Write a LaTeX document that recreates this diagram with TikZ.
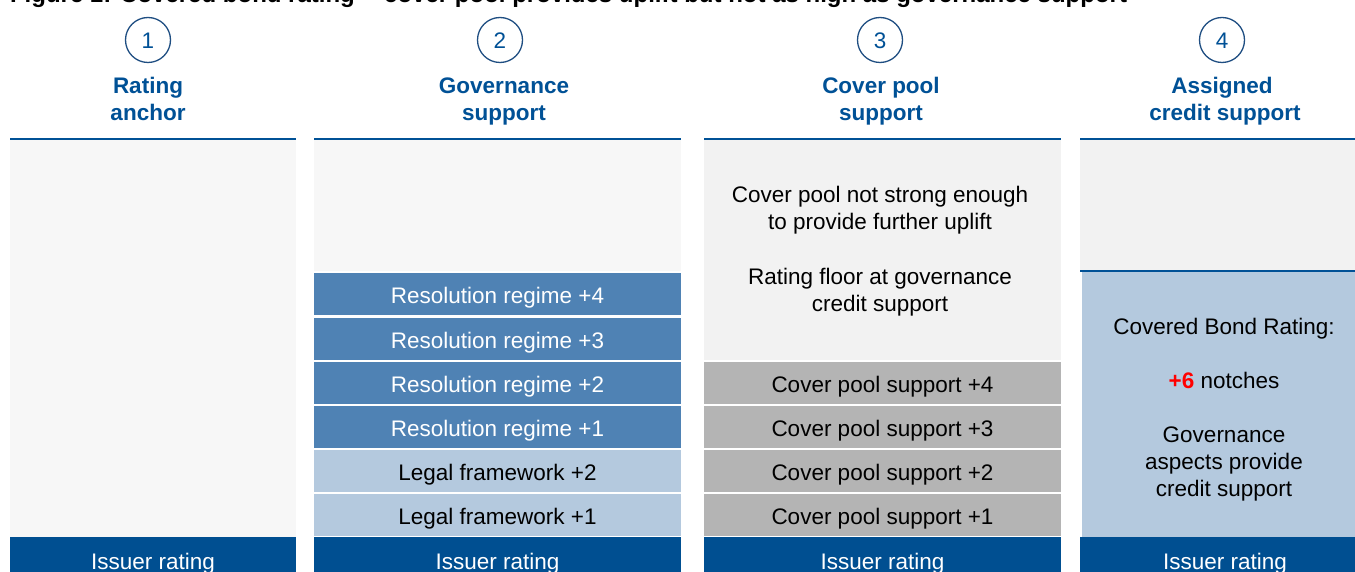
\documentclass[tikz,border=0pt]{standalone}
\usepackage{fontspec}
\newfontfamily\arialf{Liberation Sans}
\definecolor{hdblue}{RGB}{0,81,150}
\definecolor{issuerblue}{RGB}{0,79,145}
\definecolor{resblue}{RGB}{79,130,180}
\definecolor{lightblue}{RGB}{180,201,222}
\definecolor{poolgray}{RGB}{180,180,180}
\definecolor{bgA}{RGB}{247,247,247}
\definecolor{bgB}{RGB}{242,242,242}
\definecolor{circblue}{RGB}{31,78,130}
\begin{document}
\begin{tikzpicture}[x=1pt,y=-1pt,
  every node/.style={font=\arialf\fontsize{22.5}{27}\selectfont, inner sep=0pt, outer sep=0pt},
  boxs/.style={draw=none, text height=19.5pt, text depth=0pt, minimum height=42pt},
  resbox/.style={boxs, fill=resblue, text=white},
  legbox/.style={boxs, fill=lightblue, text=black},
  poolbox/.style={boxs, fill=poolgray, text=black},
  issbox/.style={boxs, fill=issuerblue, text=white, minimum height=48pt, text height=16.1pt},
  topline/.style={draw=hdblue, line width=2pt},
  circ/.style={circle, draw=circblue, line width=1.3pt, minimum size=45pt, text=hdblue, text height=16.1pt, text depth=0pt},
  head/.style={anchor=base, text=hdblue, font=\arialf\bfseries\fontsize{22.5}{27}\selectfont},
  txt/.style={anchor=base, text=black}
]
\useasboundingbox (0,0) rectangle (1355,572);
\clip (0,0) rectangle (1355,572);
\fill[white] (0,0) rectangle (1355,572);

% title (cut off at top)
\node[anchor=base west, font=\arialf\bfseries\fontsize{24}{28}\selectfont] (title) at (10,3) {Figure 1: Covered bond rating -- cover pool provides uplift but not as high as governance support};

% circles
\node[circ] (c1) at (148,40) {1};
\node[circ] (c2) at (500,40) {2};
\node[circ] (c3) at (880,40) {3};
\node[circ] (c4) at (1222,40) {4};

% headings
\node[head] (h1a) at (148,94) {Rating};
\node[head] (h1b) at (148,121) {anchor};
\node[head] (h2a) at (504,94) {Governance};
\node[head] (h2b) at (504,121) {support};
\node[head] (h3a) at (881,94) {Cover pool};
\node[head] (h3b) at (881,121) {support};
\node[head] (h4a) at (1222,94) {Assigned};
\node[head] (h4b) at (1225,121) {credit support};

% column 1
\fill[bgA] (10,140) rectangle (296,537);
\draw[topline] (10,139) -- (296,139);
\node[issbox, minimum width=286pt] (i1) at (153,561) {Issuer rating};

% column 2
\fill[bgA] (314,140) rectangle (681,271);
\draw[topline] (314,139) -- (681,139);
\node[resbox, minimum width=367pt] (r4) at (497.5,294) {Resolution regime +4};
\node[resbox, minimum width=367pt] (r3) at (497.5,338.5) {Resolution regime +3};
\node[resbox, minimum width=367pt] (r2) at (497.5,383) {Resolution regime +2};
\node[resbox, minimum width=367pt] (r1) at (497.5,427) {Resolution regime +1};
\node[legbox, minimum width=367pt] (l2) at (497.5,471) {Legal framework +2};
\node[legbox, minimum width=367pt] (l1) at (497.5,515) {Legal framework +1};
\node[issbox, minimum width=367pt] (i2) at (497.5,561) {Issuer rating};

% column 3
\fill[bgB] (704,140) rectangle (1061,360);
\draw[topline] (704,139) -- (1061,139);
\node[txt] (t3a) at (880,203) {Cover pool not strong enough};
\node[txt] (t3b) at (880,230) {to provide further uplift};
\node[txt] (t3c) at (880,284) {Rating floor at governance};
\node[txt] (t3d) at (880,311) {credit support};
\node[poolbox, minimum width=357pt] (p4) at (882.5,383) {Cover pool support +4};
\node[poolbox, minimum width=357pt] (p3) at (882.5,427) {Cover pool support +3};
\node[poolbox, minimum width=357pt] (p2) at (882.5,471) {Cover pool support +2};
\node[poolbox, minimum width=357pt] (p1) at (882.5,515) {Cover pool support +1};
\node[issbox, minimum width=357pt] (i3) at (882.5,561) {Issuer rating};

% column 4
\fill[bgB] (1080,140) rectangle (1370,271);
\fill[lightblue] (1082,272) rectangle (1370,537);
\draw[topline] (1080,139) -- (1370,139);
\draw[topline] (1080,271) -- (1370,271);
\node[txt] (t4a) at (1224,334) {Covered Bond Rating:};
\node[txt] (t4b) at (1224,388) {\textcolor{red}{\bfseries +6} notches};
\node[txt] (t4c) at (1224,442) {Governance};
\node[txt] (t4d) at (1224,469) {aspects provide};
\node[txt] (t4e) at (1224,496) {credit support};
\node[issbox, minimum width=290pt] (i4) at (1225,561) {Issuer rating};
\end{tikzpicture}
\end{document}
